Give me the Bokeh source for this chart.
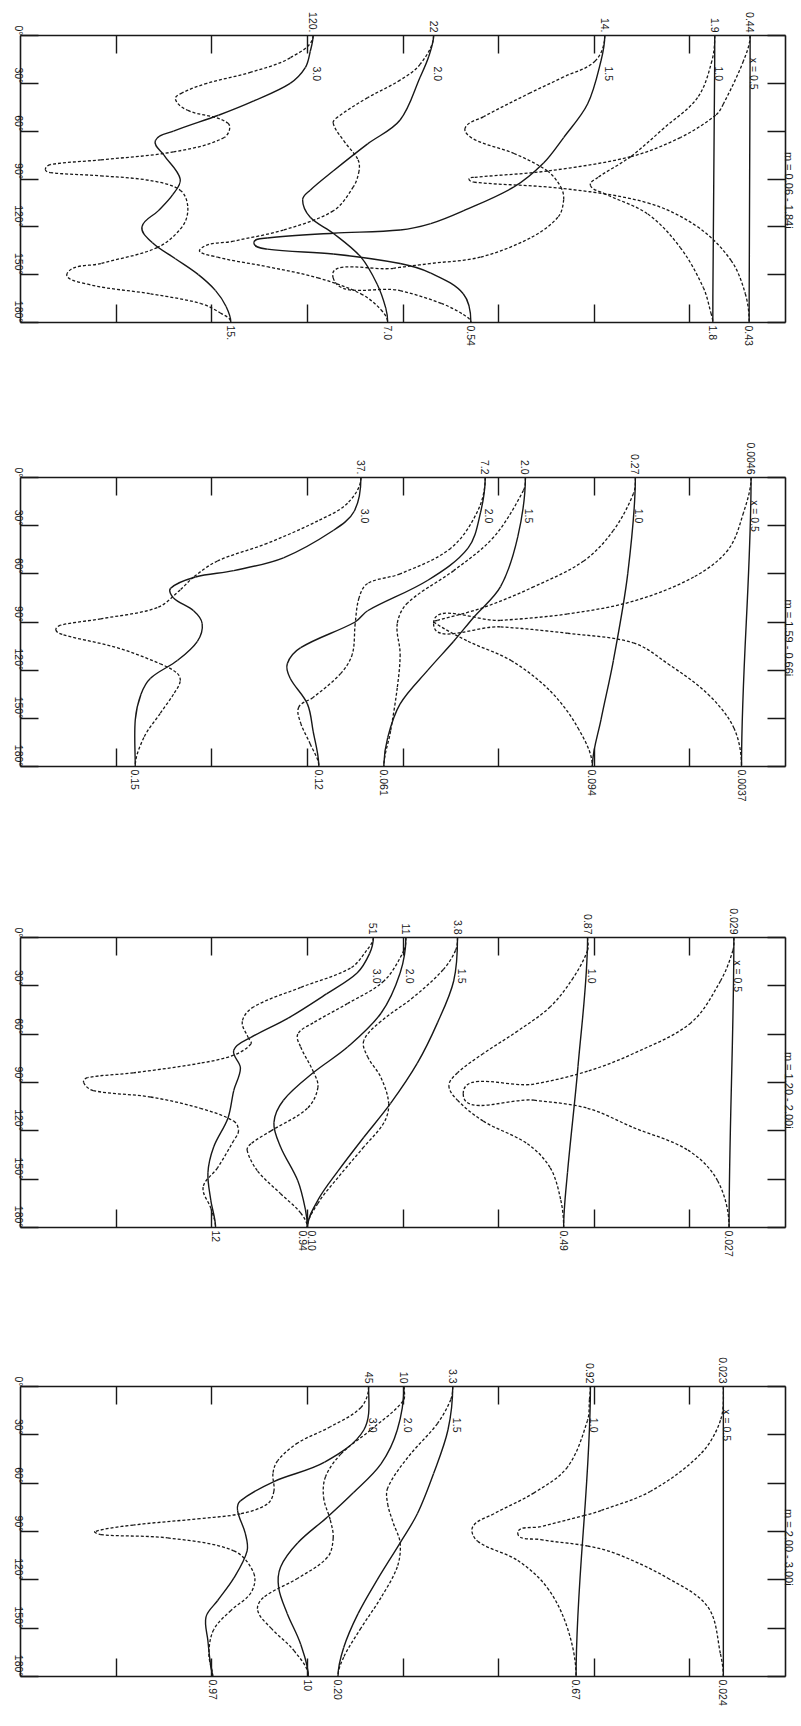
import math
from bokeh.plotting import figure
from bokeh.models import Range1d, LinearAxis, FixedTicker, PrintfTickFormatter, Label
from bokeh.layouts import column
from bokeh.embed import file_html
from bokeh.resources import INLINE

# ---------------- data ----------------
ANGLE_TICKS = [0, 30, 60, 90, 120, 150, 180]
LEVEL_TICKS = [1, 2, 3, 4, 5, 6, 7]
SIZE_NAMES = ["x = 0.5", "1.0", "1.5", "2.0", "3.0"]

# Panel 1 : m = 0.06 - 1.84i   (points are (angle deg, plotted log-intensity level))
P1_TITLE = "m = 0.06 - 1.84i"
P1_TOP = ["0.44", "1.9", "14.", "22", "120."]
P1_BOTTOM = ["0.43", "1.8", "0.54", "7.0", "15."]
P1_X05_SOLID = [(0, 7.63), (180, 7.62)]
P1_X05_DOT = [(0, 7.63), (16, 7.56), (43, 7.35), (50, 7.27), (64, 6.90), (76, 6.38), (85, 5.51), (89, 4.74),
              (90, 4.69), (92, 4.74), (96, 5.68), (105, 6.56), (120, 7.08), (141, 7.43), (162, 7.58), (180, 7.62)]
P1_X10_SOLID = [(0, 7.26), (180, 7.24)]
P1_X10_DOT = [(0, 7.26), (16, 7.23), (39, 7.08), (58, 6.73), (76, 6.38), (89, 6.04), (94, 5.96), (99, 6.10),
              (112, 6.56), (133, 6.90), (158, 7.14), (174, 7.22), (180, 7.24)]
P1_X15_SOLID = [(0, 6.11), (16, 6.07), (43, 5.93), (64, 5.68), (80, 5.47), (95, 5.16), (110, 4.63), (118, 4.29),
                (122, 3.97), (124, 3.27), (127, 2.58), (130, 2.44), (134, 2.58), (137, 3.27), (143, 3.97),
                (149, 4.29), (162, 4.63), (180, 4.71)]
P1_X15_DOT = [(0, 6.11), (16, 6.01), (26, 5.68), (36, 5.33), (51, 4.84), (58, 4.65), (65, 4.74), (74, 5.16),
              (85, 5.51), (95, 5.65), (103, 5.68), (114, 5.62), (127, 5.33), (139, 4.81), (143, 4.29),
              (146, 3.90), (152, 3.27), (160, 3.97), (168, 4.40), (175, 4.63), (180, 4.71)]
P1_X20_SOLID = [(0, 4.32), (13, 4.27), (26, 4.18), (53, 3.97), (68, 3.63), (85, 3.27), (97, 3.03), (103, 2.95),
                (114, 3.03), (124, 3.27), (139, 3.56), (156, 3.73), (171, 3.82), (180, 3.84)]
P1_X20_DOT = [(0, 4.32), (18, 4.18), (28, 3.97), (39, 3.63), (51, 3.32), (55, 3.27), (66, 3.38), (78, 3.53),
              (85, 3.54), (95, 3.48), (110, 3.27), (122, 2.75), (129, 2.23), (134, 1.88), (139, 2.06),
              (145, 2.58), (152, 3.11), (162, 3.56), (172, 3.77), (180, 3.84)]
P1_X30_SOLID = [(0, 3.06), (10, 3.03), (20, 2.98), (30, 2.82), (41, 2.44), (50, 2.07), (60, 1.60), (66, 1.41),
                (75, 1.50), (90, 1.67), (100, 1.59), (110, 1.44), (120, 1.27), (130, 1.38), (140, 1.62),
                (150, 1.86), (160, 2.04), (170, 2.15), (180, 2.20)]
P1_X30_DOT = [(0, 3.06), (14, 2.82), (23, 2.41), (30, 1.95), (36, 1.69), (40, 1.62), (47, 1.75), (55, 2.17),
              (64, 2.13), (73, 1.60), (78, 0.84), (81, 0.31), (84, 0.26), (86, 0.31), (88, 0.84), (91, 1.36),
              (97, 1.67), (108, 1.75), (120, 1.69), (133, 1.43), (143, 0.84), (149, 0.49), (156, 0.70),
              (162, 1.36), (168, 1.88), (174, 2.09), (180, 2.20)]

# Panel 2 : m = 1.59 - 0.66i
P2_TITLE = "m = 1.59 - 0.66i"
P2_TOP = ["0.0046", "0.27", "2.0", "7.2", "37."]
P2_BOTTOM = ["0.0037", "0.094", "0.061", "0.12", "0.15"]
P2_X05_SOLID = [(0, 7.64), (180, 7.54)]
P2_X05_DOT = [(0, 7.64), (22, 7.56), (45, 7.40), (62, 7.04), (77, 6.41), (85, 5.72), (89, 5.02), (91, 4.32),
              (93, 5.02), (97, 5.72), (103, 6.41), (116, 6.77), (135, 7.19), (156, 7.46), (180, 7.54)]
P2_X10_SOLID = [(0, 6.43), (60, 6.35), (114, 6.20), (151, 6.07), (180, 5.98)]
P2_X10_DOT = [(0, 6.43), (10, 6.41), (33, 6.20), (52, 5.89), (68, 5.37), (81, 4.84), (89, 4.36), (90, 4.32),
              (102, 4.68), (114, 5.13), (133, 5.54), (156, 5.83), (180, 5.98)]
P2_X15_SOLID = [(0, 5.28), (37, 5.20), (68, 5.02), (87, 4.74), (102, 4.53), (120, 4.26), (141, 3.97),
                (162, 3.84), (180, 3.80)]
P2_X15_DOT = [(0, 5.28), (8, 5.26), (37, 4.95), (58, 4.53), (78, 4.05), (91, 3.94), (110, 3.97), (131, 3.94),
              (158, 3.87), (180, 3.80)]
P2_X20_SOLID = [(0, 4.86), (22, 4.81), (44, 4.68), (64, 4.26), (83, 3.63), (90, 3.50), (106, 2.93), (116, 2.79),
                (125, 2.82), (141, 3.00), (158, 3.06), (180, 3.12)]
P2_X20_DOT = [(0, 4.86), (21, 4.78), (44, 4.50), (60, 3.97), (66, 3.63), (75, 3.54), (91, 3.50), (110, 3.47),
              (122, 3.35), (137, 3.06), (143, 2.91), (153, 2.93), (166, 3.03), (180, 3.12)]
P2_X30_SOLID = [(0, 3.56), (21, 3.49), (33, 3.27), (50, 2.75), (58, 2.23), (62, 1.83), (69, 1.57), (75, 1.60),
                (83, 1.81), (91, 1.90), (102, 1.85), (114, 1.64), (125, 1.36), (135, 1.26), (151, 1.20),
                (180, 1.20)]
P2_X30_DOT = [(0, 3.56), (16, 3.42), (27, 3.11), (41, 2.58), (52, 2.06), (62, 1.81), (70, 1.67), (81, 1.43),
              (88, 0.84), (92, 0.42), (95, 0.37), (98, 0.45), (106, 1.01), (116, 1.46), (122, 1.64), (127, 1.67),
              (135, 1.60), (147, 1.46), (162, 1.29), (180, 1.20)]

# Panel 3 : m = 1.20 - 2.00i
P3_TITLE = "m = 1.20 - 2.00i"
P3_TOP = ["0.029", "0.87", "3.8", "11", "51"]
P3_BOTTOM = ["0.027", "0.49", "0.10", "0.94", "12"]
P3_X05_SOLID = [(0, 7.46), (180, 7.41)]
P3_X05_DOT = [(0, 7.46), (8, 7.45), (27, 7.32), (53, 7.01), (72, 6.41), (83, 5.93), (91, 5.37), (97, 4.63),
              (101, 5.37), (106, 5.93), (118, 6.41), (132, 6.98), (151, 7.29), (180, 7.41)]
P3_X10_SOLID = [(0, 5.93), (80, 5.83), (146, 5.72), (180, 5.68)]
P3_X10_DOT = [(0, 5.93), (8, 5.93), (25, 5.78), (43, 5.54), (58, 5.20), (72, 4.84), (84, 4.57), (92, 4.48),
              (101, 4.57), (114, 4.84), (128, 5.30), (143, 5.54), (163, 5.65), (180, 5.68)]
P3_X15_SOLID = [(0, 4.57), (27, 4.53), (53, 4.36), (78, 4.15), (103, 3.87), (124, 3.59), (145, 3.32),
                (163, 3.11), (180, 3.00)]
P3_X15_DOT = [(0, 4.57), (8, 4.55), (20, 4.42), (37, 4.11), (52, 3.77), (64, 3.59), (74, 3.63), (87, 3.77),
              (103, 3.85), (115, 3.80), (130, 3.59), (149, 3.32), (165, 3.11), (180, 3.00)]
P3_X20_SOLID = [(0, 4.03), (22, 3.97), (47, 3.77), (68, 3.42), (84, 3.06), (101, 2.75), (115, 2.65), (130, 2.72),
                (151, 2.90), (169, 2.98), (180, 3.00)]
P3_X20_DOT = [(0, 4.03), (8, 4.01), (27, 3.80), (41, 3.42), (53, 3.06), (60, 2.90), (68, 2.93), (83, 3.06),
              (93, 3.11), (106, 3.00), (120, 2.62), (128, 2.41), (132, 2.37), (145, 2.48), (159, 2.72),
              (171, 2.93), (180, 3.00)]
P3_X30_SOLID = [(0, 3.69), (10, 3.65), (22, 3.52), (35, 3.20), (50, 2.80), (62, 2.41), (70, 2.23), (81, 2.30),
                (95, 2.23), (112, 2.17), (130, 2.02), (146, 1.96), (163, 1.99), (180, 2.04)]
P3_X30_DOT = [(0, 3.69), (8, 3.62), (19, 3.45), (31, 2.93), (43, 2.44), (52, 2.32), (62, 2.38), (66, 2.41),
              (73, 2.23), (78, 1.88), (84, 1.18), (87, 0.70), (90, 0.66), (95, 0.76), (99, 1.36), (106, 1.88),
              (114, 2.23), (120, 2.28), (126, 2.23), (143, 2.06), (155, 1.91), (168, 1.99), (180, 2.04)]

# Panel 4 : m = 2.00 - 3.00i
P4_TITLE = "m = 2.00 - 3.00i"
P4_TOP = ["0.023", "0.92", "3.3", "10", "45"]
P4_BOTTOM = ["0.024", "0.67", "0.20", "10", "0.97"]
P4_X05_SOLID = [(0, 7.35), (180, 7.35)]
P4_X05_DOT = [(0, 7.35), (21, 7.32), (42, 7.11), (65, 6.59), (77, 6.07), (80, 5.90), (87, 5.44), (91, 5.20),
              (95, 5.44), (99, 5.93), (104, 6.24), (119, 6.77), (137, 7.19), (166, 7.32), (180, 7.35)]
P4_X10_SOLID = [(0, 5.96), (180, 5.81)]
P4_X10_DOT = [(0, 5.96), (8, 5.95), (21, 5.93), (50, 5.72), (66, 5.37), (79, 4.95), (87, 4.73), (96, 4.78),
              (108, 5.20), (125, 5.51), (150, 5.72), (180, 5.81)]
P4_X15_SOLID = [(0, 4.52), (27, 4.47), (54, 4.32), (79, 4.15), (97, 3.97), (120, 3.73), (141, 3.53),
                (162, 3.38), (180, 3.32)]
P4_X15_DOT = [(0, 4.52), (8, 4.50), (23, 4.36), (44, 4.05), (63, 3.84), (73, 3.84), (85, 3.90), (97, 3.97),
              (112, 3.94), (131, 3.77), (150, 3.56), (168, 3.38), (180, 3.32)]
P4_X20_SOLID = [(0, 4.01), (27, 3.94), (48, 3.77), (66, 3.48), (81, 3.21), (97, 2.90), (112, 2.72), (125, 2.70),
                (141, 2.79), (160, 2.93), (180, 3.01)]
P4_X20_DOT = [(0, 4.01), (9, 4.00), (27, 3.66), (42, 3.35), (56, 3.19), (69, 3.17), (83, 3.24), (94, 3.27),
              (106, 3.21), (119, 2.90), (131, 2.54), (139, 2.48), (150, 2.62), (164, 2.86), (180, 3.01)]
P4_X30_SOLID = [(0, 3.64), (27, 3.59), (47, 3.18), (59, 2.65), (71, 2.30), (77, 2.27), (91, 2.35), (102, 2.37),
                (119, 2.23), (133, 2.06), (143, 1.94), (158, 1.96), (174, 1.99), (180, 2.01)]
P4_X30_DOT = [(0, 3.64), (13, 3.56), (25, 3.24), (35, 2.90), (46, 2.69), (54, 2.64), (65, 2.65), (73, 2.58),
              (79, 2.30), (82, 1.88), (86, 1.18), (90, 0.78), (92, 0.84), (94, 1.54), (102, 2.23), (116, 2.44),
              (128, 2.41), (139, 2.20), (151, 2.02), (166, 1.97), (180, 2.01)]

PANELS = [
    dict(title=P1_TITLE, top=P1_TOP, bottom=P1_BOTTOM,
         solid=[P1_X05_SOLID, P1_X10_SOLID, P1_X15_SOLID, P1_X20_SOLID, P1_X30_SOLID],
         dotted=[P1_X05_DOT, P1_X10_DOT, P1_X15_DOT, P1_X20_DOT, P1_X30_DOT]),
    dict(title=P2_TITLE, top=P2_TOP, bottom=P2_BOTTOM,
         solid=[P2_X05_SOLID, P2_X10_SOLID, P2_X15_SOLID, P2_X20_SOLID, P2_X30_SOLID],
         dotted=[P2_X05_DOT, P2_X10_DOT, P2_X15_DOT, P2_X20_DOT, P2_X30_DOT]),
    dict(title=P3_TITLE, top=P3_TOP, bottom=P3_BOTTOM,
         solid=[P3_X05_SOLID, P3_X10_SOLID, P3_X15_SOLID, P3_X20_SOLID, P3_X30_SOLID],
         dotted=[P3_X05_DOT, P3_X10_DOT, P3_X15_DOT, P3_X20_DOT, P3_X30_DOT]),
    dict(title=P4_TITLE, top=P4_TOP, bottom=P4_BOTTOM,
         solid=[P4_X05_SOLID, P4_X10_SOLID, P4_X15_SOLID, P4_X20_SOLID, P4_X30_SOLID],
         dotted=[P4_X05_DOT, P4_X10_DOT, P4_X15_DOT, P4_X20_DOT, P4_X30_DOT]),
]

# ---------------- style / layout ----------------
INK = "#181818"
FONT = "Liberation Sans"
FS = "10.5px"
TITLE_FS = "11px"
ROT = -math.pi / 2
FRAME_W = 765
LEVEL_MAX = 8
FRAME_H = [287, 289, 290, 290]
BORDER_TOP = [35, 40, 40, 40]
BORDER_BOTTOM = [115, 131, 119, 40]
# small sideways nudge (in level units) for two labels that share one end point
BOTTOM_NUDGE = [[0, 0, 0, 0, 0], [0, 0, 0, 0, 0], [0, 0, 0.05, -0.045, 0], [0, 0, 0, 0, 0]]
TITLE_START = [73, 76, 71, 76]   # angle where the sideways title text begins
NAME_ANGLE = 24


def frame_axis(p, loc, major, labels, minor, standoff, major_in=0, font_size=FS):
    ax = LinearAxis(ticker=FixedTicker(ticks=major, minor_ticks=minor),
                    major_tick_in=major_in, major_tick_out=0, minor_tick_in=18, minor_tick_out=0,
                    axis_line_color=INK, axis_line_width=1.6,
                    major_tick_line_color=INK, major_tick_line_width=1.4,
                    minor_tick_line_color=INK, minor_tick_line_width=1.4,
                    major_label_orientation=ROT, major_label_standoff=standoff,
                    major_label_text_font=FONT, major_label_text_font_size=font_size,
                    major_label_text_color=INK)
    if labels is not None:
        ax.major_label_overrides = {t: s for t, s in zip(major, labels)}
    else:
        ax.formatter = PrintfTickFormatter(format="%d°")
    p.add_layout(ax, loc)


def smooth(pts, sy):
    """Bezier pieces through the read points (tangents from neighbours, vertical at 0/180 deg)."""
    P = [(u * FRAME_W / LEVEL_MAX, a * sy) for a, u in pts]
    n = len(P)
    tan = []
    for i in range(n):
        if i == 0 or i == n - 1:
            tan.append((0.0, 1.0))
            continue
        dx, dy = P[i + 1][0] - P[i - 1][0], P[i + 1][1] - P[i - 1][1]
        L = math.hypot(dx, dy) or 1.0
        tan.append((dx / L, dy / L))
    out = {k: [] for k in ("x0", "y0", "x1", "y1", "cx0", "cy0", "cx1", "cy1")}
    kx, ky = LEVEL_MAX / FRAME_W, 1.0 / sy
    for i in range(n - 1):
        (ax_, ay), (bx, by) = P[i], P[i + 1]
        L = math.hypot(bx - ax_, by - ay) / 3.0
        out["x0"].append(ax_ * kx); out["y0"].append(ay * ky)
        out["x1"].append(bx * kx); out["y1"].append(by * ky)
        out["cx0"].append((ax_ + tan[i][0] * L) * kx); out["cy0"].append((ay + tan[i][1] * L) * ky)
        out["cx1"].append((bx - tan[i + 1][0] * L) * kx); out["cy1"].append((by - tan[i + 1][1] * L) * ky)
    return out


def make_panel(d, frame_h, b_top, b_bottom, nudge, title_start):
    p = figure(frame_width=FRAME_W, frame_height=frame_h,
               x_range=Range1d(0, LEVEL_MAX), y_range=Range1d(180, 0),
               x_axis_type=None, y_axis_type=None,
               output_backend="svg", toolbar_location=None,
               min_border_left=20, min_border_right=16, min_border_top=b_top,
               min_border_bottom=b_bottom,
               background_fill_color="white", border_fill_color="white",
               outline_line_color=None)
    starts = [pts[0][1] for pts in d["solid"]]
    ends = [pts[-1][1] + nd for pts, nd in zip(d["solid"], nudge)]

    frame_axis(p, "left", ANGLE_TICKS, None, [], 2, major_in=18)
    frame_axis(p, "right", [title_start], [d["title"]], ANGLE_TICKS, 3, font_size=TITLE_FS)
    frame_axis(p, "above", starts, d["top"], LEVEL_TICKS, 3)
    frame_axis(p, "below", ends, d["bottom"], LEVEL_TICKS, 3)

    sy = frame_h / 180.0
    for pts in d["dotted"]:
        p.bezier(line_color=INK, line_width=1.3, line_dash="3 2", **smooth(pts, sy))
    for pts in d["solid"]:
        p.bezier(line_color=INK, line_width=1.4, **smooth(pts, sy))

    for name, u0 in zip(SIZE_NAMES, starts):
        p.add_layout(Label(x=u0, y=NAME_ANGLE, text=name, angle=ROT, text_align="center",
                           text_baseline="middle", x_offset=4, text_font=FONT, text_font_size=FS,
                           text_color=INK))
    return p


plots = [make_panel(d, h, t, b, nd, ts) for d, h, t, b, nd, ts in
         zip(PANELS, FRAME_H, BORDER_TOP, BORDER_BOTTOM, BOTTOM_NUDGE, TITLE_START)]
layout = column(*plots, spacing=0)

with open("out.html", "w") as f:
    f.write(file_html(layout, INLINE, "Scattering diagrams"))
